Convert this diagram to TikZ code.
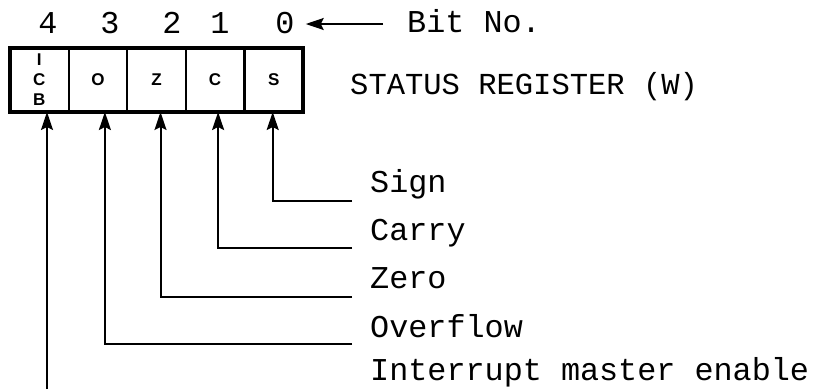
\documentclass[tikz,border=0pt]{standalone}
\usepackage{fontspec}
\setmainfont{Liberation Mono}
\setsansfont{Liberation Sans}
\usetikzlibrary{positioning, arrows.meta}

\begin{document}
\begin{tikzpicture}[x=1pt, y=-1pt, font=\fontsize{31.8}{38}\selectfont,
  bit/.style={draw, line width=2.2pt, minimum width=58.6pt, minimum height=64pt,
    inner sep=0pt, outer sep=0pt, align=center,
    font=\sffamily\bfseries\fontsize{17}{20}\selectfont},
  num/.style={anchor=base, inner sep=0pt},
  lbl/.style={anchor=base west, inner sep=0pt},
  flag/.style={-{Stealth[length=18pt, width=12pt, inset=3pt]}, line width=2pt}]
  \useasboundingbox (0,0) rectangle (816,389);

  % register cells
  \node[bit] (b4) at (39.3,80) {I\\C\\B};
  \node[bit, right=0pt of b4] (b3) {O};
  \node[bit, right=0pt of b3] (b2) {Z};
  \node[bit, right=0pt of b2] (b1) {C};
  \node[bit, right=0pt of b1] (b0) {S};
  \draw[line width=3.8pt] (b4.north west) rectangle (b0.south east);

  % bit numbers
  \node[num] (n4) at (48,33) {4};
  \node[num] (n3) at (110,33) {3};
  \node[num] (n2) at (172,33) {2};
  \node[num] (n1) at (220,33) {1};
  \node[num] (n0) at (285,33) {0};
  \node[lbl] (bitno) at (407,32) {Bit No.};
  \coordinate (bittail) at ([shift={(-24,-8)}]bitno.base west);
  \draw[flag] (bittail) -- ([xshift=11]bittail -| n0.east);

  \node[lbl, font=\fontsize{30.5}{36}\selectfont] (title) at (350,94) {STATUS REGISTER (W)};

  % flag names
  \node[lbl] (sign) at (370,192) {Sign};
  \node[lbl] (carry) at (370,240) {Carry};
  \node[lbl] (zero) at (370,288) {Zero};
  \node[lbl] (ovfl) at (370,337) {Overflow};
  \node[lbl] (ime) at (370,380) {Interrupt master enable};

  \draw[flag] ([shift={(-18,9)}]sign.base west) -| ([xshift=-1]b0.south);
  \draw[flag] ([shift={(-18,8)}]carry.base west) -| ([xshift=3]b1.south);
  \draw[flag] ([shift={(-18,9)}]zero.base west) -| ([xshift=4]b2.south);
  \draw[flag] ([shift={(-18,7)}]ovfl.base west) -| ([xshift=7]b3.south);
  \coordinate (icbfoot) at (47,389);
  \draw[flag] (icbfoot) -- (icbfoot |- b4.south);
\end{tikzpicture}
\end{document}
